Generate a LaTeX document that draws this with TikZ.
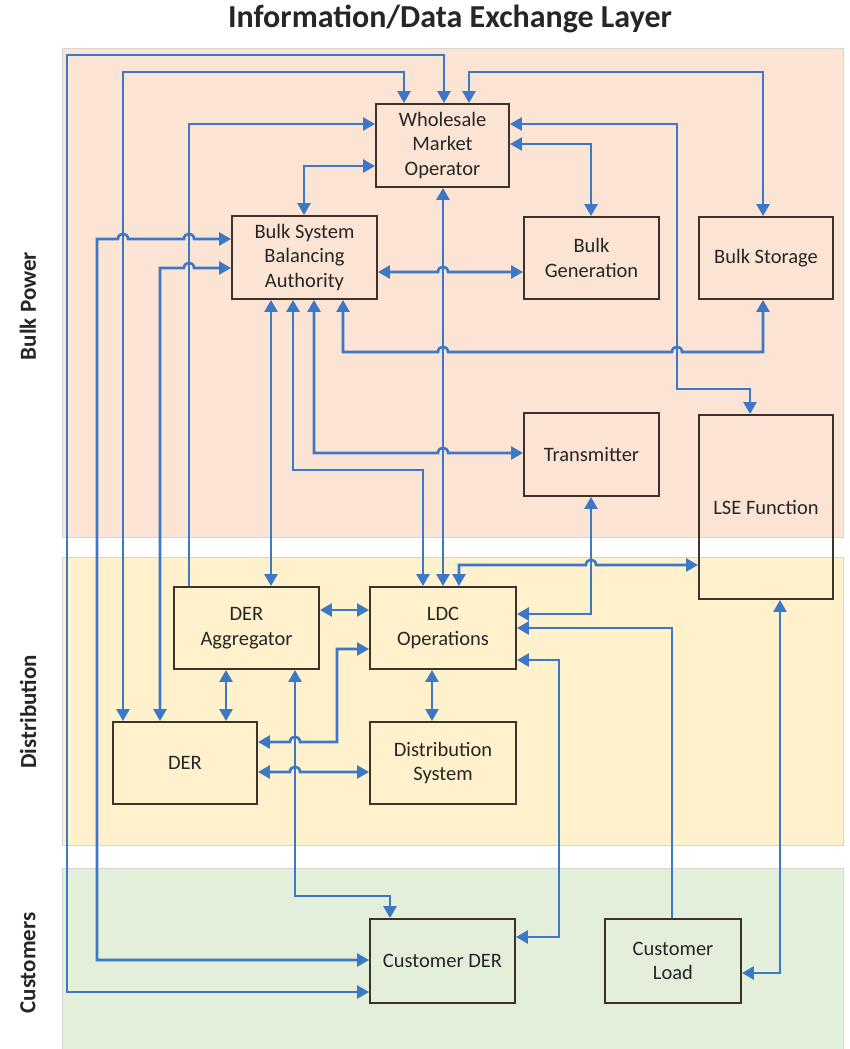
\documentclass[tikz,border=0pt]{standalone}
\usepackage{fontspec}
\setmainfont{Carlito}
\usetikzlibrary{arrows.meta}

\definecolor{flow}{HTML}{3D78C6}
\definecolor{boxline}{HTML}{3E3328}
\definecolor{bulkband}{HTML}{FCE4D4}
\definecolor{distband}{HTML}{FFF1CC}
\definecolor{custband}{HTML}{E3EFDA}
\definecolor{bandedge}{HTML}{D9D4CF}

% horizontal line hopping over a vertical one at (#1,#2)
\newcommand\hopR[2]{-- (#1-5,#2) .. controls (#1-5,#2-7) and (#1+5,#2-7) .. (#1+5,#2)}
\newcommand\hopL[2]{-- (#1+5,#2) .. controls (#1+5,#2-7) and (#1-5,#2-7) .. (#1-5,#2)}

\begin{document}
\begin{tikzpicture}[x=1pt,y=-1pt,
  band/.style={draw=bandedge, line width=0.8pt},
  box/.style={draw=boxline, line width=1.9pt, align=center,
    font=\fontsize{20.5}{24.5}\selectfont, text=black!85, inner sep=0pt},
  layerlabel/.style={rotate=90, font=\fontsize{23}{27}\selectfont\bfseries, text=black!85},
  tip/.tip={Triangle[length=12pt,width=13pt]},
  link/.style={draw=flow, line width=2.6pt},
  both/.style={link, tip-tip},
  arr/.style={link, -tip}]
\useasboundingbox (0,0) rectangle (849,1049);

% layer bands
\path[band, fill=bulkband] (62,48) rectangle (843,537);
\path[band, fill=distband] (62,557) rectangle (843,845);
\path[band, fill=custband] (62,868) rectangle (843,1049);

\node[font=\fontsize{32}{36}\selectfont\bfseries, text=black!85] (title) at (450,19) {Information/Data Exchange Layer};
\node[layerlabel] (lbulk) at (28,306) {Bulk Power};
\node[layerlabel] (ldist) at (28,712) {Distribution};
\node[layerlabel] (lcust) at (28,963) {Customers};

% entities
\node[box, minimum width=133pt, minimum height=83pt] (wmo) at (442.5,145.5) {Wholesale\\Market\\Operator};
\node[box, minimum width=145pt, minimum height=83pt] (bsba) at (304.5,257.5) {Bulk System\\Balancing\\Authority};
\node[box, minimum width=135pt, minimum height=82pt] (bgen) at (591.5,258) {Bulk\\Generation};
\node[box, minimum width=134pt, minimum height=82pt] (bsto) at (766,258) {Bulk Storage};
\node[box, minimum width=135pt, minimum height=83pt] (trans) at (591.5,454.5) {Transmitter};
\node[box, minimum width=134pt, minimum height=184pt] (lse) at (766,507) {LSE Function};
\node[box, minimum width=145pt, minimum height=82pt] (dagg) at (246.5,628) {DER\\Aggregator};
\node[box, minimum width=146pt, minimum height=82pt] (ldc) at (443,628) {LDC\\Operations};
\node[box, minimum width=144pt, minimum height=82pt] (der) at (185,763) {DER};
\node[box, minimum width=146pt, minimum height=82pt] (dsys) at (443,763) {Distribution\\System};
\node[box, minimum width=145pt, minimum height=84pt] (cder) at (442.5,961) {Customer DER};
\node[box, minimum width=136pt, minimum height=84pt] (cload) at (673,961) {Customer\\Load};

% information exchanges
\draw[both] (wmo.north -| 444,0) |- (67,55) |- (cder.west |- 0,992);
\draw[both] (wmo.north -| 404,0) |- (123,72) -- (der.north -| 123,0);
\draw[arr] (dagg.north -| 189,0) |- (wmo.west |- 0,124);
\draw[both] (cder.west |- 0,960) -| (97,239) \hopR{123}{239} \hopR{189}{239} -- (bsba.west |- 0,239);
\draw[both] (der.north -| 160,0) -- (160,268) \hopR{189}{268} -- (bsba.west |- 0,268);
\draw[both] (bsba.north -| 304,0) |- (wmo.west |- 0,166);
\draw[both] (wmo.east |- 0,144) -| (bgen.north -| 591,0);
\draw[both] (wmo.north -| 469,0) |- (763,72) -- (bsto.north -| 763,0);
\draw[both] (wmo.east |- 0,124) -| (677,389) -| (lse.north -| 750,0);
\draw[both] (bsba.east |- 0,272) \hopR{443}{272} -- (bgen.west |- 0,272);
\draw[both] (wmo.south -| 443,0) -- (ldc.north -| 443,0);
\draw[both] (bsba.south -| 343,0) -- (343,352) \hopR{443}{352} \hopR{677}{352} -| (bsto.south -| 763,0);
\draw[both] (bsba.south -| 314,0) -- (314,453) \hopR{443}{453} -- (trans.west |- 0,453);
\draw[both] (bsba.south -| 293,0) |- (423,470) -- (ldc.north -| 423,0);
\draw[both] (bsba.south -| 271,0) -- (dagg.north -| 271,0);
\draw[both] (lse.west |- 0,565) \hopL{591}{565} -| (ldc.north -| 459,0);
\draw[both] (trans.south -| 591,0) |- (ldc.east |- 0,614);
\draw[arr] (cload.north -| 672,0) |- (ldc.east |- 0,628);
\draw[both] (ldc.east |- 0,660) -| (559,937) -- (cder.east |- 0,937);
\draw[both] (lse.south -| 780,0) |- (cload.east |- 0,973);
\draw[both] (dagg.east |- 0,610) -- (ldc.west |- 0,610);
\draw[both] (dagg.south -| 226,0) -- (der.north -| 226,0);
\draw[both] (dagg.south -| 295,0) |- (390,896) -- (cder.north -| 390,0);
\draw[both] (der.east |- 0,742) \hopR{295}{742} -| (337,649) -- (ldc.west |- 0,649);
\draw[both] (der.east |- 0,772) \hopR{295}{772} -- (dsys.west |- 0,772);
\draw[both] (ldc.south -| 432,0) -- (dsys.north -| 432,0);
\end{tikzpicture}
\end{document}
